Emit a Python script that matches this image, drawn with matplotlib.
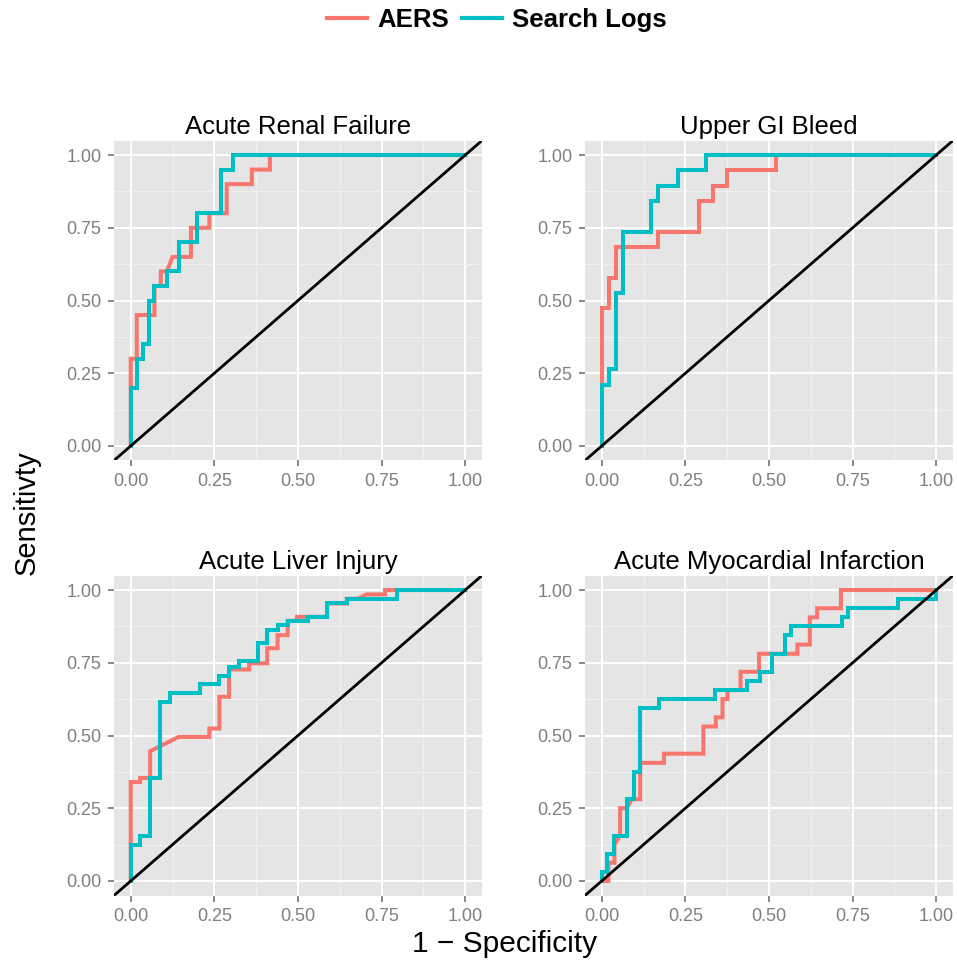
import matplotlib
matplotlib.use('Agg')
import matplotlib.pyplot as plt
from matplotlib.lines import Line2D

plt.rcParams['font.family'] = ['Liberation Sans', 'DejaVu Sans']

AERS_COLOR = '#F8766D'
LOGS_COLOR = '#00BFC4'

titles = ['Acute Renal Failure', 'Upper GI Bleed',
          'Acute Liver Injury', 'Acute Myocardial Infarction']
series_names = ['AERS', 'Search Logs']
tick_vals = [0.0, 0.25, 0.5, 0.75, 1.0]
tick_labels = ['0.00', '0.25', '0.50', '0.75', '1.00']

# ROC vertices (1 - specificity, sensitivity)
# Acute Renal Failure
arf_aers_fpr = [0, 0, 0.018, 0.018, 0.071, 0.071, 0.09, 0.09, 0.108, 0.125, 0.18, 0.18,
                0.235, 0.235, 0.287, 0.287, 0.362, 0.362, 0.416, 0.416, 1]
arf_aers_tpr = [0, 0.3, 0.3, 0.45, 0.45, 0.55, 0.55, 0.6, 0.6, 0.65, 0.65, 0.75,
                0.75, 0.8, 0.8, 0.9, 0.9, 0.95, 0.95, 1, 1]
arf_logs_fpr = [0, 0, 0.018, 0.018, 0.036, 0.036, 0.054, 0.054, 0.071, 0.071, 0.108, 0.108,
                0.144, 0.144, 0.197, 0.197, 0.27, 0.27, 0.307, 0.307, 1]
arf_logs_tpr = [0, 0.2, 0.2, 0.3, 0.3, 0.35, 0.35, 0.5, 0.5, 0.55, 0.55, 0.6,
                0.6, 0.7, 0.7, 0.8, 0.8, 0.95, 0.95, 1, 1]

# Upper GI Bleed
gib_aers_fpr = [0, 0, 0.021, 0.021, 0.042, 0.042, 0.167, 0.167, 0.292, 0.292, 0.333, 0.333,
                0.375, 0.375, 0.521, 0.521, 1]
gib_aers_tpr = [0, 0.474, 0.474, 0.579, 0.579, 0.684, 0.684, 0.737, 0.737, 0.842, 0.842, 0.895,
                0.895, 0.947, 0.947, 1, 1]
gib_logs_fpr = [0, 0, 0.021, 0.021, 0.042, 0.042, 0.0625, 0.0625, 0.146, 0.146, 0.167, 0.167,
                0.229, 0.229, 0.3125, 0.3125, 1]
gib_logs_tpr = [0, 0.211, 0.211, 0.263, 0.263, 0.526, 0.526, 0.737, 0.737, 0.842, 0.842, 0.895,
                0.895, 0.947, 0.947, 1, 1]

# Acute Liver Injury
ali_aers_fpr = [0, 0, 0.028, 0.028, 0.058, 0.058, 0.143, 0.235, 0.235, 0.265, 0.265, 0.294,
                0.294, 0.354, 0.354, 0.408, 0.408, 0.439, 0.439, 0.469, 0.469, 0.497, 0.497,
                0.587, 0.587, 0.646, 0.646, 0.68, 0.704, 0.76, 0.76, 1]
ali_aers_tpr = [0, 0.34, 0.34, 0.354, 0.354, 0.446, 0.495, 0.495, 0.524, 0.524, 0.633, 0.633,
                0.727, 0.727, 0.748, 0.748, 0.8, 0.8, 0.845, 0.845, 0.894, 0.894, 0.908,
                0.908, 0.954, 0.954, 0.97, 0.97, 0.985, 0.985, 1, 1]
ali_logs_fpr = [0, 0, 0.028, 0.028, 0.058, 0.058, 0.088, 0.088, 0.116, 0.116, 0.206, 0.206,
                0.265, 0.265, 0.294, 0.294, 0.323, 0.323, 0.381, 0.381, 0.408, 0.408, 0.439,
                0.439, 0.469, 0.469, 0.529, 0.529, 0.587, 0.587, 0.646, 0.646, 0.795, 0.795, 1]
ali_logs_tpr = [0, 0.125, 0.125, 0.155, 0.155, 0.354, 0.354, 0.616, 0.616, 0.645, 0.645, 0.677,
                0.677, 0.706, 0.706, 0.736, 0.736, 0.756, 0.756, 0.817, 0.817, 0.862, 0.862,
                0.88, 0.88, 0.894, 0.894, 0.908, 0.908, 0.954, 0.954, 0.97, 0.97, 1, 1]

# Acute Myocardial Infarction
ami_aers_fpr = [0, 0.02, 0.02, 0.038, 0.038, 0.055, 0.055, 0.075, 0.09, 0.115, 0.115, 0.186,
                0.186, 0.304, 0.304, 0.341, 0.341, 0.361, 0.361, 0.376, 0.376, 0.415, 0.415,
                0.47, 0.47, 0.585, 0.585, 0.622, 0.622, 0.644, 0.644, 0.715, 0.715, 1]
ami_aers_tpr = [0, 0, 0.0625, 0.0625, 0.125, 0.156, 0.25, 0.25, 0.281, 0.281, 0.406, 0.406,
                0.4375, 0.4375, 0.531, 0.531, 0.5625, 0.5625, 0.625, 0.625, 0.656, 0.656, 0.719,
                0.719, 0.781, 0.781, 0.8125, 0.8125, 0.906, 0.906, 0.9375, 0.9375, 1, 1]
ami_logs_fpr = [0, 0, 0.017, 0.017, 0.038, 0.038, 0.075, 0.075, 0.095, 0.095, 0.113, 0.113,
                0.17, 0.17, 0.339, 0.339, 0.434, 0.434, 0.474, 0.474, 0.51, 0.51, 0.547, 0.547,
                0.565, 0.565, 0.717, 0.717, 0.737, 0.737, 0.886, 0.886, 1, 1]
ami_logs_tpr = [0, 0.031, 0.031, 0.094, 0.094, 0.156, 0.156, 0.281, 0.281, 0.375, 0.375, 0.594,
                0.594, 0.625, 0.625, 0.656, 0.656, 0.6875, 0.6875, 0.719, 0.719, 0.781, 0.781, 0.844,
                0.844, 0.875, 0.875, 0.906, 0.906, 0.9375, 0.9375, 0.969, 0.969, 1]

panels = [
    (arf_aers_fpr, arf_aers_tpr, arf_logs_fpr, arf_logs_tpr),
    (gib_aers_fpr, gib_aers_tpr, gib_logs_fpr, gib_logs_tpr),
    (ali_aers_fpr, ali_aers_tpr, ali_logs_fpr, ali_logs_tpr),
    (ami_aers_fpr, ami_aers_tpr, ami_logs_fpr, ami_logs_tpr),
]

W, H = 957, 967
fig = plt.figure(figsize=(W / 100, H / 100), dpi=100)

# panel boxes in pixels
lefts = [114, 585]
tops = [140.5, 575.5]
pw, ph = 368, 320


def style_axes(ax, title):
    ax.set_facecolor('#E5E5E5')
    for s in ax.spines.values():
        s.set_visible(False)
    ax.set_xlim(-0.05, 1.05)
    ax.set_ylim(-0.05, 1.05)
    ax.set_xticks(tick_vals)
    ax.set_xticklabels(tick_labels)
    ax.set_yticks(tick_vals)
    ax.set_yticklabels(tick_labels)
    ax.set_xticks([0.125, 0.375, 0.625, 0.875], minor=True)
    ax.set_yticks([0.125, 0.375, 0.625, 0.875], minor=True)
    ax.grid(which='major', color='white', linewidth=1.4)
    ax.grid(which='minor', color='#F2F2F2', linewidth=0.7)
    ax.set_axisbelow(True)
    ax.tick_params(which='major', labelsize=13, labelcolor='#7F7F7F', color='#7F7F7F',
                   length=4, width=1.3, pad=5)
    ax.tick_params(which='minor', length=0)
    ax.set_title(title, fontsize=18.5, pad=5)


for i, (title, data) in enumerate(zip(titles, panels)):
    r, c = divmod(i, 2)
    ax = fig.add_axes([lefts[c] / W, 1 - (tops[r] + ph) / H, pw / W, ph / H])
    style_axes(ax, title)
    a_x, a_y, l_x, l_y = data
    ax.plot(a_x, a_y, color=AERS_COLOR, linewidth=2.9, solid_joinstyle='miter', zorder=3)
    ax.plot(l_x, l_y, color=LOGS_COLOR, linewidth=2.9, solid_joinstyle='miter', zorder=4)
    ax.plot([-0.05, 1.05], [-0.05, 1.05], color='black', linewidth=2, zorder=5)

fig.text(27 / W, 1 - 513 / H, 'Sensitivty', rotation=90, ha='center', va='center', fontsize=21)
fig.text(505 / W, 1 - 944 / H, '1 \u2212 Specificity', ha='center', va='center', fontsize=21.5)

handles = [Line2D([], [], color=AERS_COLOR, linewidth=3),
           Line2D([], [], color=LOGS_COLOR, linewidth=3)]
fig.legend(handles, series_names, loc='center', bbox_to_anchor=(497 / W, 1 - 20 / H),
           ncol=2, frameon=False, prop={'weight': 'bold', 'size': 18.5},
           handlelength=1.56, handletextpad=0.4, columnspacing=0.47)

fig.savefig('out.png', dpi=100)
